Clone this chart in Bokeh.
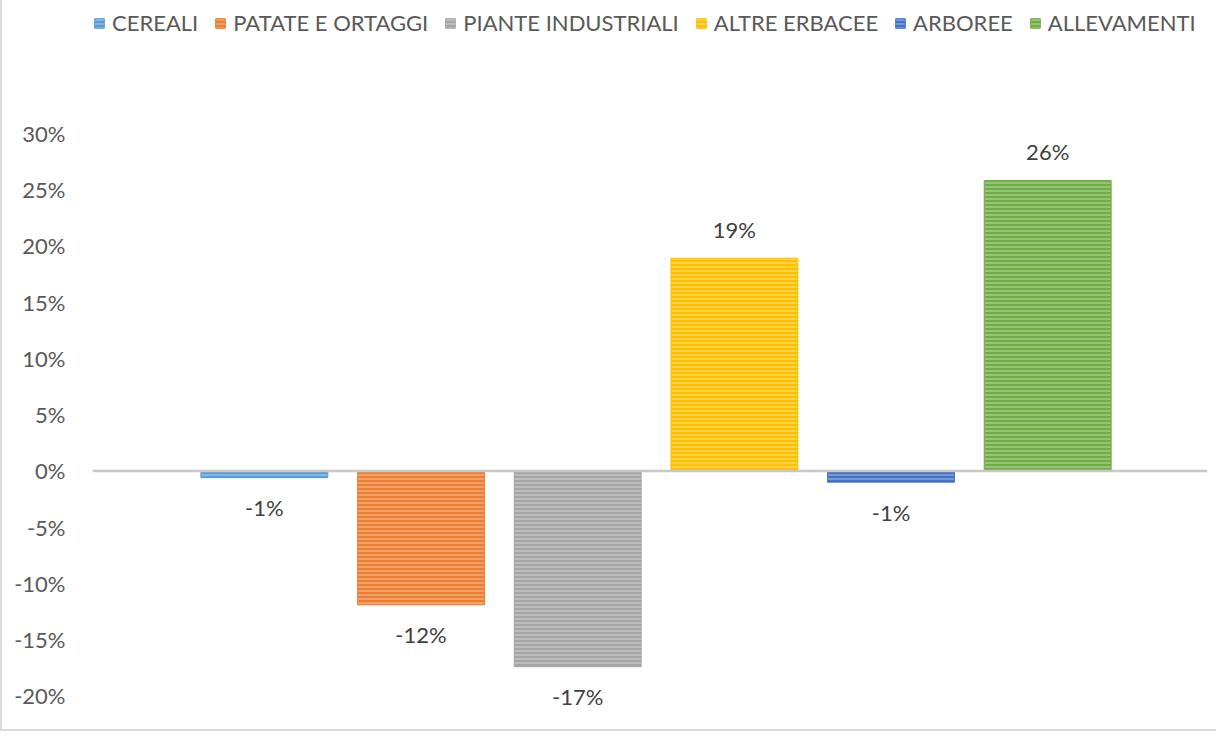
from bokeh.plotting import figure
from bokeh.models import ColumnDataSource, Span, Legend, LegendItem, FixedTicker, NumeralTickFormatter, Range1d
from bokeh.core.properties import value
from bokeh.embed import file_html
from bokeh.resources import INLINE

# ---- data ----
categories = ["CEREALI", "PATATE E ORTAGGI", "PIANTE INDUSTRIALI", "ALTRE ERBACEE", "ARBOREE", "ALLEVAMENTI"]
values_pct = [-0.6, -11.9, -17.4, 18.9, -1.0, 25.8]
colors = ["#5B9BD5", "#ED7D31", "#A5A5A5", "#FFC000", "#4472C4", "#70AD47"]
y_ticks = [-0.20, -0.15, -0.10, -0.05, 0.0, 0.05, 0.10, 0.15, 0.20, 0.25, 0.30]

FONT = "Lato"
TXT = "#595959"
FS = "22px"

vals = [v / 100 for v in values_pct]
labels = ["%d%%" % round(v) for v in values_pct]
xs = list(range(len(categories)))
src = ColumnDataSource(dict(x=xs, top=vals, color=colors, cat=categories,
                            label=labels,
                            yoff=[-29 if v > 0 else 30 for v in vals]))

p = figure(width=1216, height=731, output_backend="svg", toolbar_location=None,
           x_range=Range1d(-1.097, 6.02), y_range=Range1d(-0.22, 0.418),
           min_border_left=90, min_border_right=11, min_border_top=0, min_border_bottom=13)
p.outline_line_color = None
p.xgrid.visible = False
p.ygrid.visible = False
p.xaxis.visible = False
p.styles = {"border-left": "2px solid #D9D9D9", "border-bottom": "2px solid #D9D9D9"}

ya = p.yaxis[0]
ya.ticker = FixedTicker(ticks=y_ticks)
ya.formatter = NumeralTickFormatter(format="0%")
ya.axis_line_color = None
ya.major_tick_line_color = None
ya.minor_tick_line_color = None
ya.major_label_standoff = 21
ya.major_label_text_font = FONT
ya.major_label_text_font_size = FS
ya.major_label_text_color = TXT

r = p.vbar(x="x", width=0.81, bottom=0, top="top", source=src,
           fill_color="color", line_color="color", line_width=1,
           hatch_pattern="horizontal_line", hatch_color="white", hatch_alpha=0.45,
           hatch_scale=4, hatch_weight=1.2)

p.text(x="x", y="top", text="label", source=src, y_offset="yoff",
       text_align="center", text_baseline="middle",
       text_font=value(FONT), text_font_size=FS, text_color="#404040")

p.add_layout(Span(location=0, dimension="width", line_color="#C8C8C8", line_width=2.5))

items = [LegendItem(label=c, renderers=[r], index=i) for i, c in enumerate(categories)]
leg = Legend(items=items, orientation="horizontal", location=(1, 682),
             label_text_font=FONT, label_text_font_size=FS, label_text_color=TXT,
             glyph_width=12, glyph_height=12, label_standoff=7, spacing=16,
             padding=0, margin=0, border_line_alpha=0, background_fill_alpha=0)
p.add_layout(leg, "center")

open("out.html", "w").write(file_html(p, INLINE))
